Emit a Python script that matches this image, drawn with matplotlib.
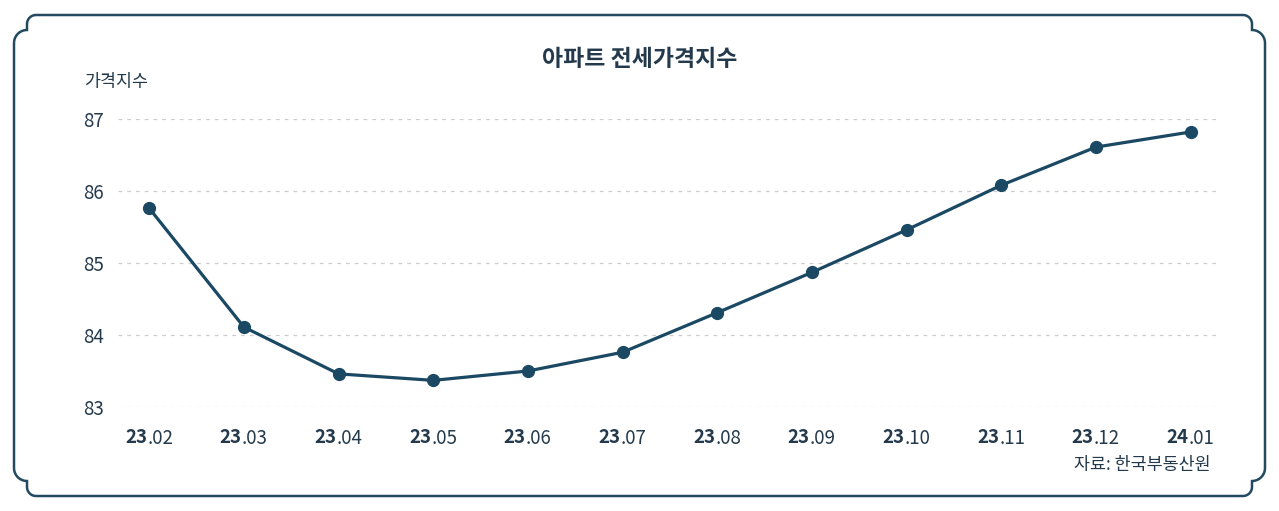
import matplotlib.pyplot as plt
from matplotlib.path import Path
from matplotlib.patches import PathPatch
import numpy as np

plt.rcParams['font.family'] = ['Noto Sans CJK KR', 'DejaVu Sans']

# data
months_yy = ['23', '23', '23', '23', '23', '23', '23', '23', '23', '23', '23', '24']
months_mm = ['.02', '.03', '.04', '.05', '.06', '.07', '.08', '.09', '.10', '.11', '.12', '.01']
index_vals = [85.76, 84.11, 83.46, 83.37, 83.50, 83.76, 84.31, 84.87, 85.46, 86.08, 86.61, 86.82]
y_ticks = [83, 84, 85, 86, 87]

title = '아파트 전세가격지수'
y_label = '가격지수'
source = '자료: 한국부동산원'

line_col = '#1b4863'
text_col = '#243a4c'
frame_col = '#234a60'

W, H = 1279, 511
fig = plt.figure(figsize=(W / 100, H / 100), dpi=100)

# frame with notched corners, in pixel coords (y from top)
def corner_pts(cx, cy, sx, sy):
    pts = []
    a = np.linspace(0, np.pi / 2, 12)
    # first arc (radius 9) from top edge
    for t in a:
        pts.append((cx + sx * (22 - 9 * np.sin(t)), cy + sy * (1 + 9 * (1 - np.cos(t)))))
    # second arc (radius 13) to side edge
    for t in a:
        pts.append((cx + sx * (13 - 13 * np.sin(t)), cy + sy * (16 + 13 * (1 - np.cos(t)))))
    return pts

x0, y0, x1, y1 = 14, 14, 1265, 497
tl = corner_pts(x0, y0, 1, 1)
tr = corner_pts(x1, y0, -1, 1)
bl = corner_pts(x0, y1, 1, -1)
br = corner_pts(x1, y1, -1, -1)
verts = list(reversed(tl))  # side edge -> top edge
verts = verts + tr  # top edge -> right edge
verts = verts + list(reversed(br))  # right edge -> bottom edge
verts = verts + bl  # bottom -> left side
verts.append(verts[0])
verts = [(vx / W, 1 - vy / H) for vx, vy in verts]
frame = PathPatch(Path(verts), transform=fig.transFigure, fill=False,
                  edgecolor=frame_col, linewidth=1.8)
fig.patches.append(frame)

ax = fig.add_axes([118 / W, (H - 407) / H, (1220 - 118) / W, (407 - 119) / H])
x = np.arange(len(index_vals))
ax.plot(x, index_vals, color=line_col, linewidth=2.3, marker='o', markersize=8.5,
        clip_on=False, zorder=3)
ax.set_xlim(-0.33, len(index_vals) - 1 + 0.31)
ax.set_ylim(83, 87)
ax.set_yticks(y_ticks)
ax.set_yticklabels([str(v) for v in y_ticks], fontsize=13.5, color=text_col)
ax.tick_params(axis='y', length=0, pad=10)
ax.set_xticks([])
for s in ax.spines.values():
    s.set_visible(False)
ax.grid(axis='y', color='#cccccc', linestyle=(0, (3, 4)), linewidth=0.9)
ax.set_axisbelow(True)

for i in range(len(index_vals)):
    ax.annotate(months_yy[i], xy=(i, 0), xycoords=('data', 'axes fraction'),
                xytext=(-1.5, -15), textcoords='offset points', ha='right', va='top',
                fontsize=13.5, fontweight='bold', color=text_col)
    ax.annotate(months_mm[i], xy=(i, 0), xycoords=('data', 'axes fraction'),
                xytext=(-1.5, -15), textcoords='offset points', ha='left', va='top',
                fontsize=13.5, color=text_col)

fig.text(640 / W, 1 - 59 / H, title, ha='center', va='center', fontsize=16.5,
         fontweight='bold', color=text_col)
fig.text(84 / W, 1 - 82 / H, y_label, ha='left', va='center', fontsize=12.5, color=text_col)
fig.text(1211 / W, 1 - 465 / H, source, ha='right', va='center', fontsize=12.5, color=text_col)

fig.savefig('out.png', dpi=100, facecolor='white')
